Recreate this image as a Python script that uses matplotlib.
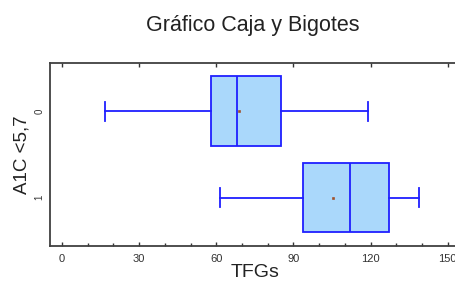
import matplotlib
matplotlib.use("Agg")
import matplotlib.pyplot as plt
from matplotlib.ticker import MultipleLocator

plt.rcParams['font.family'] = ['Liberation Sans', 'DejaVu Sans']

categories = ["0", "1"]
whislo = [16.5, 61.5]
q1 = [58.0, 93.6]
med = [68.2, 111.8]
q3 = [85.2, 127.1]
whishi = [119.0, 139.0]
means = [68.8, 105.4]
x_ticks = [0, 30, 60, 90, 120, 150]

stats = []
for i, c in enumerate(categories):
    stats.append(dict(label=c, whislo=whislo[i], q1=q1[i], med=med[i], q3=q3[i],
                      whishi=whishi[i], mean=means[i], fliers=[]))

fig = plt.figure(figsize=(4.56, 2.82), dpi=100)
ax = fig.add_axes([50/456, 1-246/282, (456-50)/456 + 0.01, (246-63)/282])

blue = '#1f1fff'
ax.bxp(stats, positions=[0, 1], vert=False, widths=0.8, capwidths=0.22,
       patch_artist=True, showmeans=True, showfliers=False,
       boxprops=dict(facecolor='#aad8fb', edgecolor=blue, linewidth=1.3),
       medianprops=dict(color=blue, linewidth=1.3),
       whiskerprops=dict(color=blue, linewidth=1.3),
       capprops=dict(color=blue, linewidth=1.3),
       meanprops=dict(marker='s', markersize=1.4, markerfacecolor='#a0522d',
                      markeredgecolor='#a0522d', markeredgewidth=0.5))

ax.set_ylim(1.56, -0.555)
ax.set_xlim(-4.7, 155)
ax.set_yticks([0, 1])
ax.set_yticklabels(categories, rotation=90, fontsize=7, va='center', color='#333333')
ax.set_xticks(x_ticks)
ax.set_xticklabels([str(v) for v in x_ticks], fontsize=8, color='#333333')
ax.xaxis.set_minor_locator(MultipleLocator(10))
ax.tick_params(axis='x', which='major', direction='in', length=3, width=1, top=True,
               color='#333333', pad=6)
ax.tick_params(axis='x', which='minor', direction='in', length=2, width=1, top=False,
               color='#333333')
ax.tick_params(axis='y', which='both', length=0, pad=4)
for s in ['left', 'bottom', 'top']:
    ax.spines[s].set_color('#404040')
    ax.spines[s].set_linewidth(1.3)
ax.spines['right'].set_visible(False)

ax.set_ylabel("A1C <5,7", fontsize=13.5, color='#222222', labelpad=3)
ax.set_xlabel("TFGs", fontsize=14, color='#222222', labelpad=0)
fig.text(253/456, 1-26/282, "Gráfico Caja y Bigotes", fontsize=15.5,
         ha='center', va='center', color='#222222')

fig.savefig("out.png", dpi=100)
